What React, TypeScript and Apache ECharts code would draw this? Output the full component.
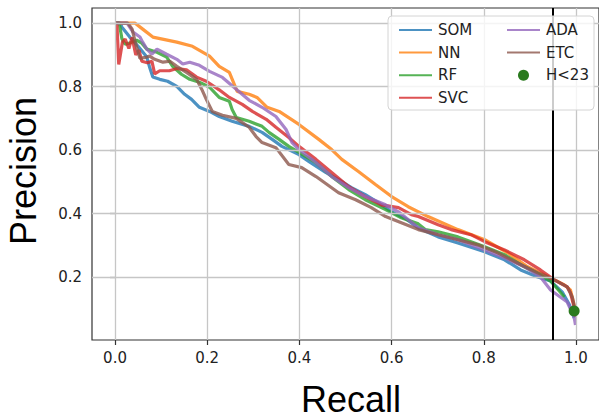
import React, { useEffect, useRef } from "react";
import * as echarts from "echarts";

// recall, precision pairs
const SOM: [number, number][] = [
  [0, 1.0], [0.011, 1.0], [0.015, 0.987], [0.032, 0.956], [0.05, 0.927], [0.069, 0.893],
  [0.075, 0.861], [0.082, 0.83], [0.097, 0.823], [0.114, 0.817], [0.134, 0.801],
  [0.151, 0.776], [0.166, 0.76], [0.183, 0.735], [0.205, 0.722], [0.226, 0.706],
  [0.254, 0.691], [0.291, 0.675], [0.319, 0.656], [0.341, 0.634], [0.362, 0.612],
  [0.399, 0.586], [0.421, 0.564], [0.457, 0.53], [0.485, 0.507], [0.513, 0.482],
  [0.543, 0.46], [0.571, 0.435], [0.6, 0.406], [0.63, 0.385], [0.658, 0.355], [0.701, 0.327],
  [0.744, 0.308], [0.802, 0.28], [0.845, 0.255], [0.88, 0.223], [0.917, 0.201],
  [0.945, 0.188], [0.97, 0.154], [0.986, 0.113], [0.996, 0.072],
];
const NN: [number, number][] = [
  [0, 1.0], [0.022, 1.0], [0.043, 1.0], [0.06, 0.981], [0.082, 0.956], [0.134, 0.94],
  [0.168, 0.927], [0.205, 0.896], [0.226, 0.864], [0.248, 0.845], [0.265, 0.785],
  [0.291, 0.776], [0.308, 0.766], [0.33, 0.735], [0.356, 0.722], [0.399, 0.681],
  [0.442, 0.634], [0.47, 0.602], [0.492, 0.571], [0.528, 0.533], [0.565, 0.492],
  [0.6, 0.454], [0.636, 0.422], [0.679, 0.391], [0.744, 0.35], [0.802, 0.318],
  [0.852, 0.277], [0.895, 0.233], [0.945, 0.198], [0.975, 0.176], [0.988, 0.16],
  [0.996, 0.113], [1.0, 0.085],
];
const RF: [number, number][] = [
  [0, 1.0], [0.009, 1.0], [0.015, 0.95], [0.022, 0.934], [0.032, 0.937], [0.047, 0.946],
  [0.058, 0.937], [0.069, 0.918], [0.091, 0.908], [0.112, 0.893], [0.125, 0.864],
  [0.144, 0.839], [0.162, 0.823], [0.183, 0.814], [0.205, 0.798], [0.226, 0.766],
  [0.248, 0.754], [0.254, 0.728], [0.263, 0.703], [0.291, 0.691], [0.319, 0.675],
  [0.334, 0.656], [0.356, 0.634], [0.377, 0.612], [0.399, 0.593], [0.436, 0.561],
  [0.47, 0.517], [0.507, 0.476], [0.543, 0.444], [0.587, 0.413], [0.621, 0.387],
  [0.658, 0.368], [0.673, 0.35], [0.701, 0.343], [0.744, 0.327], [0.802, 0.296],
  [0.845, 0.271], [0.888, 0.233], [0.923, 0.207], [0.945, 0.188], [0.975, 0.138],
];
const SVC: [number, number][] = [
  [0, 1.0], [0.004, 1.0], [0.008, 0.87], [0.016, 0.94], [0.022, 0.95], [0.03, 0.92],
  [0.037, 0.955], [0.045, 0.9], [0.052, 0.915], [0.058, 0.88], [0.07, 0.875],
  [0.08, 0.88], [0.086, 0.84], [0.097, 0.85], [0.118, 0.85], [0.134, 0.857],
  [0.155, 0.853], [0.177, 0.83], [0.198, 0.817], [0.226, 0.79], [0.248, 0.766],
  [0.276, 0.744], [0.298, 0.722], [0.328, 0.697], [0.349, 0.672], [0.377, 0.64],
  [0.399, 0.612], [0.436, 0.571], [0.47, 0.53], [0.507, 0.485], [0.543, 0.454],
  [0.578, 0.428], [0.615, 0.419], [0.643, 0.397], [0.658, 0.391], [0.701, 0.365],
  [0.729, 0.35], [0.772, 0.334], [0.802, 0.312], [0.845, 0.286], [0.888, 0.255],
  [0.923, 0.223], [0.953, 0.192], [0.981, 0.17], [0.988, 0.151], [0.996, 0.106],
  [0.999, 0.075],
];
const ADA: [number, number][] = [
  [0, 1.0], [0.026, 1.0], [0.039, 0.972], [0.054, 0.956], [0.06, 0.94], [0.069, 0.918],
  [0.08, 0.902], [0.091, 0.918], [0.112, 0.902], [0.134, 0.886], [0.147, 0.871],
  [0.162, 0.877], [0.183, 0.867], [0.205, 0.848], [0.233, 0.829], [0.263, 0.792],
  [0.291, 0.757], [0.319, 0.735], [0.349, 0.706], [0.371, 0.665], [0.384, 0.624],
  [0.399, 0.602], [0.436, 0.561], [0.47, 0.517], [0.507, 0.482], [0.543, 0.454],
  [0.587, 0.428], [0.615, 0.406], [0.658, 0.356], [0.701, 0.334], [0.744, 0.318],
  [0.802, 0.286], [0.845, 0.261], [0.888, 0.233], [0.923, 0.201], [0.945, 0.16],
  [0.966, 0.138], [0.981, 0.122], [0.996, 0.075], [0.999, 0.05],
];
const ETC: [number, number][] = [
  [0, 1.0], [0.028, 1.0], [0.037, 0.981], [0.045, 0.934], [0.054, 0.889], [0.069, 0.893],
  [0.075, 0.896], [0.086, 0.886], [0.104, 0.877], [0.119, 0.88], [0.134, 0.864],
  [0.155, 0.845], [0.177, 0.823], [0.188, 0.792], [0.198, 0.76], [0.211, 0.722],
  [0.233, 0.71], [0.263, 0.7], [0.291, 0.672], [0.306, 0.643], [0.319, 0.624],
  [0.349, 0.608], [0.377, 0.555], [0.405, 0.545], [0.436, 0.517], [0.485, 0.466],
  [0.522, 0.444], [0.556, 0.419], [0.587, 0.391], [0.658, 0.35], [0.701, 0.334],
  [0.744, 0.318], [0.787, 0.302], [0.83, 0.277], [0.873, 0.245], [0.917, 0.214],
  [0.953, 0.192], [0.981, 0.17], [0.992, 0.138], [0.999, 0.091],
];
const H23: [number, number][] = [[0.996, 0.094]];
const THRESHOLD_RECALL = 0.95;

const X_TICKS = [0, 0.2, 0.4, 0.6, 0.8, 1.0];
const Y_TICKS = [0.2, 0.4, 0.6, 0.8, 1.0];
const LEGEND_COL1 = ["SOM", "NN", "RF", "SVC"];
const LEGEND_COL2 = ["ADA", "ETC", "H<23"];

const COLORS: Record<string, string> = {
  SOM: "#1f77b4",
  NN: "#ff7f0e",
  RF: "#2ca02c",
  SVC: "#d62728",
  ADA: "#9467bd",
  ETC: "#8c564b",
};
const DOT_COLOR = "#2a7a1e";

const FONT = "DejaVu Sans";

export default function App() {
  const ref = useRef<HTMLDivElement>(null);

  useEffect(() => {
    document.body.style.margin = "0";
    if (!ref.current) return;
    const chart = echarts.init(ref.current, undefined, { renderer: "svg" });

    const lineSeries = (name: string, data: [number, number][]) => ({
      type: "line",
      name,
      data,
      symbol: "none",
      showSymbol: false,
      silent: true,
      z: 3,
      lineStyle: { color: COLORS[name], width: 3.2, opacity: 0.8 },
      itemStyle: { color: COLORS[name], opacity: 0.8 },
    });

    const legendItem = (name: string) =>
      name === "H<23"
        ? { name, icon: "circle" }
        : { name, itemStyle: { opacity: 0 } };

    const legendCommon = {
      orient: "vertical",
      itemWidth: 33,
      itemHeight: 11,
      itemGap: 7.6,
      selectedMode: false,
      z: 100,
      textStyle: {
        fontFamily: FONT,
        fontSize: 15,
        color: "#222",
        padding: [0, 0, 0, 1],
      },
    };

    chart.setOption({
      animation: false,
      grid: {
        left: 92,
        top: 8,
        width: 510,
        height: 332,
        show: true,
        borderColor: "#333",
        borderWidth: 1.2,
        backgroundColor: "transparent",
      },
      xAxis: {
        type: "value",
        min: -0.05,
        max: 1.05,
        axisLine: { show: false },
        splitLine: { show: false },
        axisTick: {
          show: true,
          customValues: X_TICKS,
          length: 5,
          lineStyle: { color: "#333", width: 1.2 },
        },
        axisLabel: {
          customValues: X_TICKS,
          formatter: (v: number) => v.toFixed(1),
          fontFamily: FONT,
          fontSize: 15,
          color: "#222",
          margin: 10,
        },
      },
      yAxis: {
        type: "value",
        min: 0.0025,
        max: 1.0475,
        axisLine: { show: false },
        splitLine: { show: false },
        axisTick: {
          show: true,
          customValues: Y_TICKS,
          length: 5,
          lineStyle: { color: "#333", width: 1.2 },
        },
        axisLabel: {
          customValues: Y_TICKS,
          formatter: (v: number) => v.toFixed(1),
          fontFamily: FONT,
          fontSize: 15,
          color: "#222",
          margin: 10,
        },
      },
      legend: [
        { ...legendCommon, data: LEGEND_COL1.map(legendItem), left: 393, top: 17.5 },
        { ...legendCommon, data: LEGEND_COL2.map(legendItem), left: 501, top: 17.5 },
      ],
      graphic: [
        {
          type: "rect",
          z: 90,
          shape: { x: 388, y: 16, width: 206, height: 94, r: 4 },
          style: { fill: "rgba(255,255,255,0.8)", stroke: "#d4d4d4", lineWidth: 1 },
        },
        {
          type: "text",
          x: 351,
          y: 399,
          style: {
            text: "Recall",
            font: '36px "Liberation Sans"',
            fill: "#000",
            textAlign: "center",
            textVerticalAlign: "middle",
            align: "center",
            verticalAlign: "middle",
          },
        },
        {
          type: "text",
          x: 23.5,
          y: 171,
          rotation: Math.PI / 2,
          style: {
            text: "Precision",
            font: '36px "Liberation Sans"',
            fill: "#000",
            textAlign: "center",
            textVerticalAlign: "middle",
            align: "center",
            verticalAlign: "middle",
          },
        },
      ],
      series: [
        {
          type: "line",
          name: "_grid",
          data: [[0, 1]],
          symbol: "none",
          silent: true,
          z: 1,
          lineStyle: { opacity: 0 },
          markLine: {
            silent: true,
            symbol: ["none", "none"],
            label: { show: false },
            lineStyle: { color: "#c6c6c6", width: 1.3, type: "solid" },
            data: [
              ...X_TICKS.map((v) => ({ xAxis: v })),
              ...Y_TICKS.map((v) => ({ yAxis: v })),
            ],
          },
        },
        lineSeries("SOM", SOM),
        lineSeries("NN", NN),
        lineSeries("RF", RF),
        lineSeries("SVC", SVC),
        lineSeries("ADA", ADA),
        lineSeries("ETC", ETC),
        {
          type: "line",
          name: "_threshold",
          data: [[THRESHOLD_RECALL, 0.5]],
          symbol: "none",
          silent: true,
          z: 5,
          lineStyle: { opacity: 0 },
          markLine: {
            silent: true,
            symbol: ["none", "none"],
            label: { show: false },
            lineStyle: { color: "#000", width: 2, type: "solid" },
            data: [{ xAxis: THRESHOLD_RECALL }],
          },
        },
        {
          type: "scatter",
          name: "H<23",
          data: H23,
          symbol: "circle",
          symbolSize: 11,
          z: 6,
          silent: true,
          itemStyle: { color: DOT_COLOR, opacity: 1 },
        },
      ],
    });

    return () => chart.dispose();
  }, []);

  return <div ref={ref} style={{ width: 599, height: 416 }} />;
}
